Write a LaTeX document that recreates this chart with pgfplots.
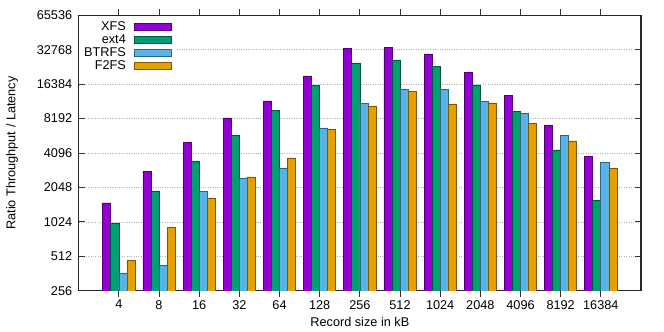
\documentclass[border=0pt]{standalone}
\usepackage{fontspec}
\setmainfont{Liberation Sans}
\usepackage{pgfplots}
\pgfplotsset{compat=1.18}

\definecolor{cxfs}{RGB}{148,0,211}
\definecolor{cext}{RGB}{0,158,115}
\definecolor{cbtr}{RGB}{86,180,233}
\definecolor{cf2f}{RGB}{230,159,0}

% bar style with a darker outline of the same hue, box-shaped legend key
\pgfplotsset{
  fsbar/.style={fill=#1, draw=#1!55!black, line width=0.7bp,
    legend image code/.code={\draw[fill=#1, draw=#1!55!black, line width=0.7bp] (0bp,-3.5bp) rectangle (37bp,3.5bp);}},
}

\begin{document}
\begin{tikzpicture}[font=\fontsize{12.7bp}{15bp}\selectfont]
\useasboundingbox (0,0) rectangle (664bp,332bp);
\begin{axis}[
  at={(78.7bp,41.3bp)}, anchor=south west,
  scale only axis, width=562.3bp, height=275.4bp,
  ymode=log, log basis y=2,
  ymin=256, ymax=65536,
  ytick={256,512,1024,2048,4096,8192,16384,32768,65536},
  yticklabels={256,512,1024,2048,4096,8192,16384,32768,65536},
  xmin=-1, xmax=13,
  xtick={0,...,12},
  xticklabels={4,8,16,32,64,128,256,512,1024,2048,4096,8192,16384},
  yticklabel style={xshift=-3bp},
  tick align=inside, tick pos=both, major tick length=6bp,
  tick style={black!80, line width=0.8bp},
  ymajorgrids, grid style={dotted, gray!60, line width=0.6bp},
  axis line style={black!85, line width=1.1bp},
  ybar=0pt, bar width=0.2,
  xlabel={Record size in kB},
  ylabel={Ratio Throughput / Latency},
  every axis x label/.style={at={(axis description cs:0.5,-0.1137)}, anchor=center},
  every axis y label/.style={at={(axis description cs:-0.1186,0.5)}, rotate=90, anchor=center},
  legend style={at={(0,1)}, anchor=north west, xshift=0.6bp, yshift=-0.6bp,
    draw=none, fill=white, inner xsep=4.7bp, inner ysep=5.4bp,
    row sep=1.5bp, column sep=8bp,
    nodes={inner sep=0pt, text height=9bp, text depth=2.5bp}},
  legend cell align=right, legend plot pos=right,
]

\addplot[fsbar=cxfs, bar shift=-0.3] coordinates {
  (0,1500) (1,2830) (2,5075) (3,8300) (4,11700) (5,19360) (6,33400)
  (7,34200) (8,30150) (9,20700) (10,12950) (11,7160) (12,3810)};
\addplot[fsbar=cext, bar shift=-0.1] coordinates {
  (0,1000) (1,1907) (2,3487) (3,5900) (4,9680) (5,16020) (6,25100)
  (7,26700) (8,23500) (9,16150) (10,9500) (11,4360) (12,1590)};
\addplot[fsbar=cbtr, bar shift=0.1] coordinates {
  (0,366) (1,424) (2,1893) (3,2480) (4,3036) (5,6790) (6,11150)
  (7,14780) (8,14700) (9,11530) (10,9010) (11,5810) (12,3360)};
\addplot[fsbar=cf2f, bar shift=0.3] coordinates {
  (0,471) (1,917) (2,1657) (3,2530) (4,3710) (5,6530) (6,10580)
  (7,14200) (8,11000) (9,11230) (10,7400) (11,5230) (12,2990)};

\legend{XFS,ext4,BTRFS,F2FS}
\end{axis}
\end{tikzpicture}
\end{document}
